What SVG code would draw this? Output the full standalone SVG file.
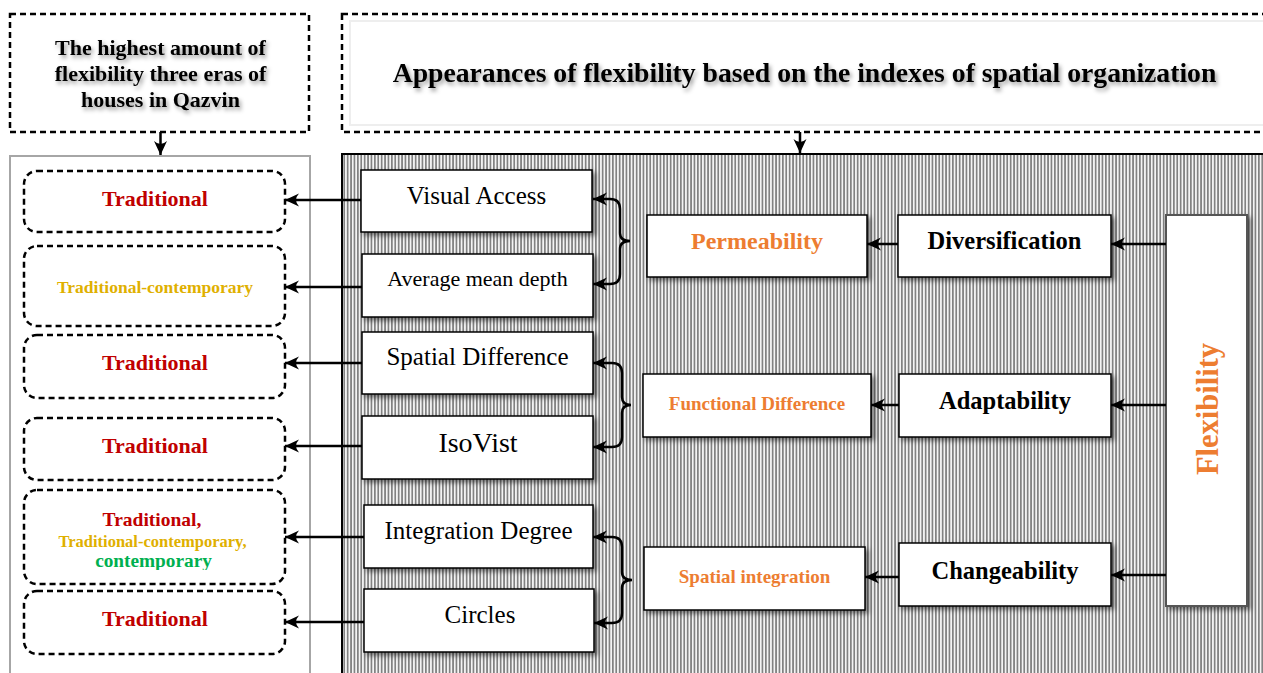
<svg xmlns="http://www.w3.org/2000/svg" width="1263" height="673" viewBox="0 0 1263 673">
<defs>
<pattern id="hatch" patternUnits="userSpaceOnUse" width="3.4" height="10">
<rect x="0" y="0" width="3.4" height="10" fill="#f4f4f4"/>
<rect x="0" y="0" width="1.7" height="10" fill="#828282"/>
</pattern>
<filter id="sh" x="-10%" y="-20%" width="125%" height="150%">
<feDropShadow dx="3" dy="3" stdDeviation="2.5" flood-color="#000" flood-opacity="0.5"/>
</filter>
<filter id="tsh" x="-10%" y="-30%" width="120%" height="170%">
<feDropShadow dx="2" dy="3" stdDeviation="2" flood-color="#000" flood-opacity="0.4"/>
</filter>
<marker id="ah" markerUnits="userSpaceOnUse" viewBox="0 0 14 14" refX="14" refY="7" markerWidth="14" markerHeight="14" orient="auto-start-reverse">
<path d="M14,7 L0,0.5 Q6,7 0,13.5 Z" fill="#000"/>
</marker>
<clipPath id="clip5"><rect x="24" y="490" width="262" height="80"/></clipPath>
</defs>
<style>
.dash{fill:#fff;stroke:#000;stroke-width:2.5;stroke-dasharray:6 4}
.box{fill:#fff;stroke:#000;stroke-width:1.5}
.hdr{font-family:"Liberation Serif",serif;font-weight:bold;fill:#000;text-anchor:middle}
.mid{font-family:"Liberation Serif",serif;font-size:25px;fill:#000;text-anchor:middle}
.bt{font-family:"Liberation Serif",serif;font-weight:bold;text-anchor:middle}
.red{fill:#c00000}
.gold{fill:#dfb000}
.green{fill:#00b050}
.org{fill:#ed7d31}
.con{fill:none;stroke:#000;stroke-width:2.5}
</style>
<rect width="1263" height="673" fill="#fff"/>

<g id="header-left">
<rect class="dash" x="10" y="14" width="299" height="118"/>
<text class="hdr" font-size="22" filter="url(#tsh)"><tspan x="160.5" y="55">The highest amount of</tspan><tspan x="160.5" y="81">flexibility three eras of</tspan><tspan x="160.5" y="107">houses in Qazvin</tspan></text>
</g>
<g id="header-right">
<rect class="dash" x="342" y="14" width="940" height="118"/>
<rect x="350" y="21" width="920" height="104" fill="none" stroke="#eeeeee" stroke-width="2"/>
<text class="hdr" font-size="27.7" x="804.5" y="82" filter="url(#tsh)">Appearances of flexibility based on the indexes of spatial organization</text>
</g>

<g id="panel-left">
<rect x="10" y="156" width="300" height="530" fill="#fff" stroke="#a6a6a6" stroke-width="2"/>
</g>
<g id="panel-right">
<rect x="342" y="154" width="940" height="530" fill="url(#hatch)" stroke="#000" stroke-width="2"/>
</g>

<g id="result-1">
<rect class="dash" x="24" y="171" width="261" height="61" rx="13"/>
<text class="bt red" font-size="22" x="155" y="206">Traditional</text>
</g>
<g id="result-2">
<rect class="dash" x="24" y="246" width="261" height="80" rx="13"/>
<text class="bt gold" font-size="17.5" x="155" y="293">Traditional-contemporary</text>
</g>
<g id="result-3">
<rect class="dash" x="24" y="335" width="261" height="63" rx="13"/>
<text class="bt red" font-size="22" x="155" y="370">Traditional</text>
</g>
<g id="result-4">
<rect class="dash" x="24" y="418" width="261" height="62" rx="13"/>
<text class="bt red" font-size="22" x="155" y="453">Traditional</text>
</g>
<g id="result-5">
<rect class="dash" x="24" y="490" width="261" height="94" rx="13"/>
<g clip-path="url(#clip5)">
<text class="bt red" font-size="19.5" x="152" y="526">Traditional,</text>
<text class="bt gold" font-size="16.5" x="152.5" y="547">Traditional-contemporary,</text>
<text class="bt green" font-size="19.3" x="153.5" y="567">contemporary</text>
</g>
</g>
<g id="result-6">
<rect class="dash" x="24" y="591" width="261" height="63" rx="13"/>
<text class="bt red" font-size="22" x="155" y="626">Traditional</text>
</g>

<g id="visual-access">
<rect class="box" filter="url(#sh)" x="361" y="170" width="231" height="62"/>
<text class="mid" x="476.5" y="204">Visual Access</text>
</g>
<g id="average-mean-depth">
<rect class="box" filter="url(#sh)" x="362" y="254" width="231" height="63"/>
<text class="mid" style="font-size:22px" x="477.5" y="286">Average mean depth</text>
</g>
<g id="spatial-difference">
<rect class="box" filter="url(#sh)" x="362" y="332" width="231" height="62"/>
<text class="mid" x="477.5" y="365">Spatial Difference</text>
</g>
<g id="isovist">
<rect class="box" filter="url(#sh)" x="362" y="416" width="231" height="63"/>
<text class="mid" style="font-size:28px" x="478" y="452">IsoVist</text>
</g>
<g id="integration-degree">
<rect class="box" filter="url(#sh)" x="364" y="505" width="229" height="63"/>
<text class="mid" x="478.5" y="539">Integration Degree</text>
</g>
<g id="circles">
<rect class="box" filter="url(#sh)" x="364" y="589" width="230" height="63"/>
<text class="mid" x="480" y="623">Circles</text>
</g>

<g id="permeability">
<rect class="box" filter="url(#sh)" x="647" y="215" width="220" height="62"/>
<text class="bt org" font-size="24" x="757" y="249">Permeability</text>
</g>
<g id="functional-difference">
<rect class="box" filter="url(#sh)" x="643" y="374" width="228" height="63"/>
<text class="bt org" font-size="19" x="757" y="410">Functional Difference</text>
</g>
<g id="spatial-integration">
<rect class="box" filter="url(#sh)" x="644" y="547" width="221" height="63"/>
<text class="bt org" font-size="19" x="754.5" y="583">Spatial integration</text>
</g>

<g id="diversification">
<rect class="box" filter="url(#sh)" x="898" y="215" width="213" height="62"/>
<text class="bt" font-size="24.5" x="1004.5" y="249">Diversification</text>
</g>
<g id="adaptability">
<rect class="box" filter="url(#sh)" x="899" y="374" width="212" height="63"/>
<text class="bt" font-size="24.5" x="1005" y="409">Adaptability</text>
</g>
<g id="changeability">
<rect class="box" filter="url(#sh)" x="899" y="543" width="212" height="63"/>
<text class="bt" font-size="24.5" x="1005" y="579">Changeability</text>
</g>

<g id="flexibility">
<rect x="1166" y="215" width="81" height="391" fill="#fff" stroke="#555" stroke-width="2" filter="url(#sh)"/>
<text class="bt org" font-size="30.5" transform="translate(1218,409) rotate(-90)" x="0" y="0">Flexibility</text>
</g>

<g id="connectors">
<path class="con" marker-end="url(#ah)" d="M160.5,132 L160.5,155"/>
<path class="con" marker-end="url(#ah)" d="M800,132 L800,153"/>
<path class="con" marker-end="url(#ah)" d="M1166,244 L1111,244"/>
<path class="con" marker-end="url(#ah)" d="M1166,405 L1111,405"/>
<path class="con" marker-end="url(#ah)" d="M1166,575 L1111,575"/>
<path class="con" marker-end="url(#ah)" d="M898,244 L867,244"/>
<path class="con" marker-end="url(#ah)" d="M899,405 L871,405"/>
<path class="con" marker-end="url(#ah)" d="M899,577 L865,577"/>
<path class="con" marker-start="url(#ah)" marker-end="url(#ah)" d="M593,199 L610,199 Q620,199 620,209 L620,233 Q620,241 630,241 Q620,241 620,249 L620,274 Q620,284 610,284 L593,284"/>
<path class="con" marker-start="url(#ah)" marker-end="url(#ah)" d="M593,363 L612,363 Q622,363 622,373 L622,397 Q622,405 631,405 Q622,405 622,413 L622,437 Q622,447 612,447 L593,447"/>
<path class="con" marker-start="url(#ah)" marker-end="url(#ah)" d="M593,537 L612,537 Q622,537 622,547 L622,572 Q622,580 632,580 Q622,580 622,588 L622,613 Q622,623 612,623 L594,623"/>
<path class="con" marker-end="url(#ah)" d="M361,200 L285,200"/>
<path class="con" marker-end="url(#ah)" d="M362,287 L285,287"/>
<path class="con" marker-end="url(#ah)" d="M362,363 L285,363"/>
<path class="con" marker-end="url(#ah)" d="M362,446 L285,446"/>
<path class="con" marker-end="url(#ah)" d="M364,537 L285,537"/>
<path class="con" marker-end="url(#ah)" d="M364,622 L285,622"/>
</g>
</svg>
